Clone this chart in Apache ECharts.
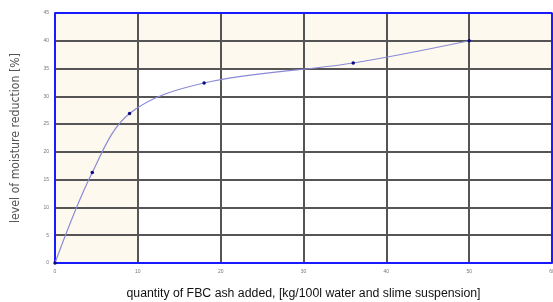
<!DOCTYPE html>
<html>
<head>
<meta charset="utf-8">
<script src="https://cdn.jsdelivr.net/npm/echarts@6/dist/echarts.min.js"></script>
<style>
  html, body { margin: 0; padding: 0; background: #fff; }
  #chart { width: 553px; height: 302px; }
</style>
</head>
<body>
<div id="chart"></div>
<script>
// ash added [kg/100l] vs moisture reduction [%]
const ashAdded = [0, 4.5, 9, 18, 36, 50];
const moistureReduction = [0, 16.3, 26.9, 32.4, 36, 40];
const xTicks = [0, 10, 20, 30, 40, 50, 60];
const yTicks = [0, 5, 10, 15, 20, 25, 30, 35, 40, 45];

const chart = echarts.init(document.getElementById("chart"));
const blue = "#1a1aff";
const gridGrey = "#555";
const cream = "#fdf9ee";

chart.setOption({
  backgroundColor: "#fff",
  animation: false,
  grid: { left: 55, right: 1, top: 13, bottom: 39, outerBoundsMode: "none" },
  xAxis: {
    type: "value",
    z: 3,
    min: xTicks[0],
    max: xTicks[xTicks.length - 1],
    interval: 10,
    name: "quantity of FBC ash added, [kg/100l water and slime suspension]",
    nameLocation: "middle",
    nameGap: 25,
    nameTextStyle: { fontFamily: "Liberation Sans", fontSize: 12.3, color: "#111" },
    axisLine: { lineStyle: { color: blue, width: 2 } },
    axisTick: { show: false },
    axisLabel: { fontSize: 5, color: "#777", margin: 6, fontFamily: "Liberation Sans" },
    splitLine: { lineStyle: { color: gridGrey, width: 2 } }
  },
  yAxis: {
    type: "value",
    z: 3,
    min: yTicks[0],
    max: yTicks[yTicks.length - 1],
    interval: 5,
    name: "level of moisture reduction [%]",
    nameLocation: "middle",
    nameGap: 33,
    nameTextStyle: { fontFamily: "DejaVu Sans Condensed", fontSize: 12.2, color: "#555" },
    axisLine: { show: true, lineStyle: { color: blue, width: 2 } },
    axisTick: { show: false },
    axisLabel: { fontSize: 5, color: "#777", margin: 6, fontFamily: "Liberation Sans" },
    splitLine: { lineStyle: { color: gridGrey, width: 2 } }
  },
  series: [
    {
      // cream shaded background, under the grid lines
      type: "line",
      data: [],
      z: 1,
      silent: true,
      markArea: {
        silent: true,
        itemStyle: { color: cream },
        data: [
          [{ xAxis: 0, yAxis: 0 }, { xAxis: 10, yAxis: 35 }],
          [{ xAxis: 0, yAxis: 35 }, { xAxis: 60, yAxis: 45 }]
        ]
      }
    },
    {
      type: "line",
      data: ashAdded.map((x, i) => [x, moistureReduction[i]]),
      smooth: 0.35,
      symbol: "circle",
      symbolSize: 3.5,
      showSymbol: true,
      lineStyle: { color: "#8a8ad6", width: 1.2 },
      itemStyle: { color: "#0a0a80" },
      z: 5
    },
    {
      // blue frame on top and right
      type: "line",
      data: [[0, 45], [60, 45], [60, 0]],
      symbol: "none",
      lineStyle: { color: blue, width: 2 },
      silent: true,
      z: 6
    }
  ]
});
</script>
</body>
</html>
